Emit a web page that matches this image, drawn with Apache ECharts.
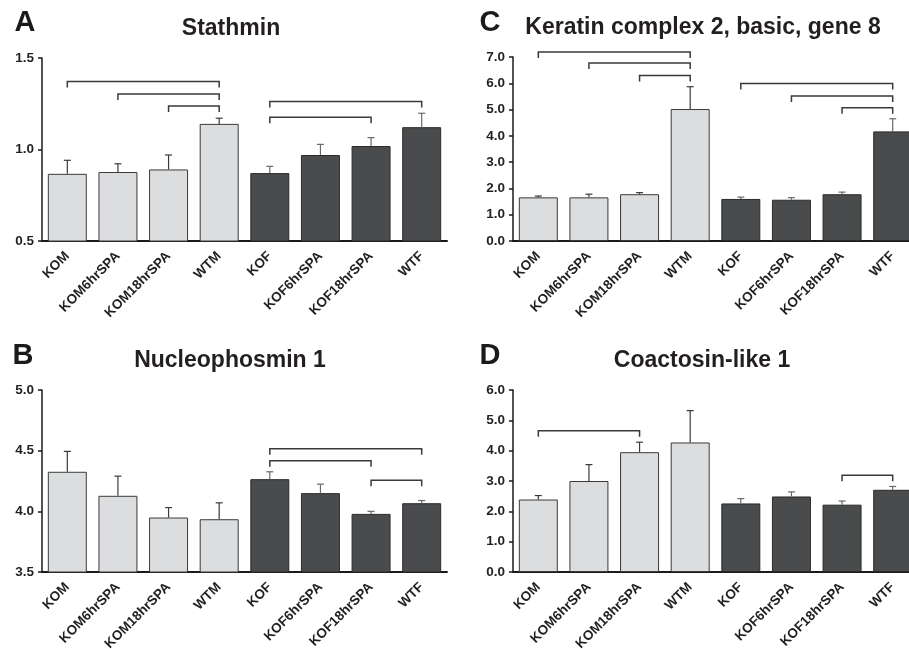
<!DOCTYPE html>
<html>
<head>
<meta charset="utf-8">
<script src="https://cdn.jsdelivr.net/npm/echarts@6/dist/echarts.min.js"></script>
<style>
  html, body { margin: 0; background: #fff; }
  #main { width: 909px; height: 649px; }
</style>
</head>
<body>
<div id="main"></div>
<script>
const categories = ["KOM", "KOM6hrSPA", "KOM18hrSPA", "WTM", "KOF", "KOF6hrSPA", "KOF18hrSPA", "WTF"];

// A - Stathmin
const stathminMean = [0.867, 0.877, 0.891, 1.140, 0.871, 0.970, 1.019, 1.122];
const stathminSem = [0.074, 0.045, 0.079, 0.031, 0.037, 0.058, 0.046, 0.076];
const stathminPairs = [[0, 3, 1.372], [1, 3, 1.303], [2, 3, 1.238], [4, 7, 1.262], [4, 6, 1.176]];

// B - Nucleophosmin 1
const npmMean = [4.326, 4.128, 3.949, 3.935, 4.265, 4.150, 3.979, 4.067];
const npmSem = [0.168, 0.162, 0.082, 0.135, 0.061, 0.074, 0.021, 0.022];
const npmPairs = [[4, 7, 4.516], [4, 6, 4.417], [6, 7, 4.257]];

// C - Keratin complex 2, basic, gene 8
const krtMean = [1.66, 1.66, 1.78, 5.02, 1.60, 1.57, 1.78, 4.17];
const krtSem = [0.05, 0.12, 0.06, 0.85, 0.07, 0.08, 0.08, 0.48];
const krtPairs = [[0, 3, 7.19], [1, 3, 6.77], [2, 3, 6.30], [4, 7, 5.99], [5, 7, 5.52], [6, 7, 5.07]];

// D - Coactosin-like 1
const cotlMean = [2.39, 3.00, 3.95, 4.27, 2.26, 2.49, 2.22, 2.71];
const cotlSem = [0.13, 0.54, 0.33, 1.05, 0.16, 0.15, 0.12, 0.11];
const cotlPairs = [[0, 2, 4.657], [6, 7, 3.193]];

const FONT = "'Liberation Sans', Arial, Helvetica, sans-serif";
const INK = "#231f20";

const panels = [
  { letter: "A", title: "Stathmin", mean: stathminMean, sem: stathminSem, pairs: stathminPairs,
    min: 0.5, max: 1.5, interval: 0.5,
    grid: { left: 42, top: 58, width: 405, height: 183 }, letterPos: [25, 23], titlePos: [231, 29] },
  { letter: "B", title: "Nucleophosmin 1", mean: npmMean, sem: npmSem, pairs: npmPairs,
    min: 3.5, max: 5.0, interval: 0.5,
    grid: { left: 42, top: 390, width: 405, height: 182 }, letterPos: [23, 356], titlePos: [230, 361] },
  { letter: "C", title: "Keratin complex 2, basic, gene 8", mean: krtMean, sem: krtSem, pairs: krtPairs,
    min: 0, max: 7, interval: 1,
    grid: { left: 513, top: 57, width: 405, height: 184 }, letterPos: [490, 23], titlePos: [703, 28] },
  { letter: "D", title: "Coactosin-like 1", mean: cotlMean, sem: cotlSem, pairs: cotlPairs,
    min: 0, max: 6, interval: 1,
    grid: { left: 513, top: 390, width: 405, height: 182 }, letterPos: [490, 356], titlePos: [702, 361] },
];

const lightBar = { color: "#dcdddf", borderColor: "#3a3a3a", borderWidth: 1 };
const darkBar = { color: "#4a4b4d", borderColor: "#2a2a2a", borderWidth: 1 };

const myChart = echarts.init(document.getElementById("main"));

const grids = [], xAxes = [], yAxes = [], series = [], texts = [];

panels.forEach((p, i) => {
  grids.push(Object.assign({ outerBoundsMode: "none", containLabel: false }, p.grid));

  xAxes.push({
    gridIndex: i,
    type: "category",
    data: categories,
    axisLine: { lineStyle: { color: "#1a1a1a", width: 2 } },
    axisTick: { show: false },
    axisLabel: {
      interval: 0, rotate: 45, margin: 13,
      fontFamily: FONT, fontWeight: "bold", fontSize: 13.5, color: INK,
    },
  });

  yAxes.push({
    gridIndex: i,
    type: "value",
    min: p.min, max: p.max, interval: p.interval,
    splitLine: { show: false },
    axisLine: { show: true, lineStyle: { color: "#1a1a1a", width: 1.5 } },
    axisTick: { show: true, length: 4, lineStyle: { color: "#1a1a1a", width: 1.5 } },
    axisLabel: {
      margin: 8, formatter: v => v.toFixed(1),
      fontFamily: FONT, fontWeight: "bold", fontSize: 13.5, color: INK,
    },
  });

  series.push({
    type: "bar",
    xAxisIndex: i, yAxisIndex: i,
    barCategoryGap: "23%",
    data: p.mean.map((v, k) => ({ value: v, itemStyle: k < 4 ? lightBar : darkBar })),
    silent: true,
  });

  // upper error whiskers
  series.push({
    type: "custom",
    xAxisIndex: i, yAxisIndex: i,
    clip: false, silent: true, z: 3,
    data: p.mean.map((v, k) => [k, v, v + p.sem[k]]),
    renderItem: (params, api) => {
      const a = api.coord([api.value(0), api.value(1)]);
      const b = api.coord([api.value(0), api.value(2)]);
      const stroke = api.value(0) < 4 ? "#3a3a3a" : "#6a6a6a";
      return {
        type: "group",
        children: [
          { type: "line", shape: { x1: a[0], y1: a[1], x2: b[0], y2: b[1] }, style: { stroke, lineWidth: 1.2 } },
          { type: "line", shape: { x1: b[0] - 3.5, y1: b[1], x2: b[0] + 3.5, y2: b[1] }, style: { stroke, lineWidth: 1.2 } },
        ],
      };
    },
  });

  // significance brackets
  series.push({
    type: "custom",
    xAxisIndex: i, yAxisIndex: i,
    clip: false, silent: true, z: 4,
    data: p.pairs,
    renderItem: (params, api) => {
      const a = api.coord([api.value(0), api.value(2)]);
      const b = api.coord([api.value(1), api.value(2)]);
      return {
        type: "polyline",
        shape: { points: [[a[0], a[1] + 6], [a[0], a[1]], [b[0], b[1]], [b[0], b[1] + 6]] },
        style: { stroke: "#3a3a3a", lineWidth: 1.5, fill: null },
      };
    },
  });

  texts.push({
    type: "text", x: p.letterPos[0], y: p.letterPos[1],
    style: { text: p.letter, font: "bold 29px " + FONT, fill: "#1a1a1a", textAlign: "center", textVerticalAlign: "middle" },
  });
  texts.push({
    type: "text", x: p.titlePos[0], y: p.titlePos[1],
    style: { text: p.title, font: "bold 23px " + FONT, fill: INK, textAlign: "center", textVerticalAlign: "middle" },
  });
});

const option = {
  backgroundColor: "#fff",
  animation: false,
  grid: grids,
  xAxis: xAxes,
  yAxis: yAxes,
  series: series,
  graphic: texts,
};

option && myChart.setOption(option);
</script>
</body>
</html>
